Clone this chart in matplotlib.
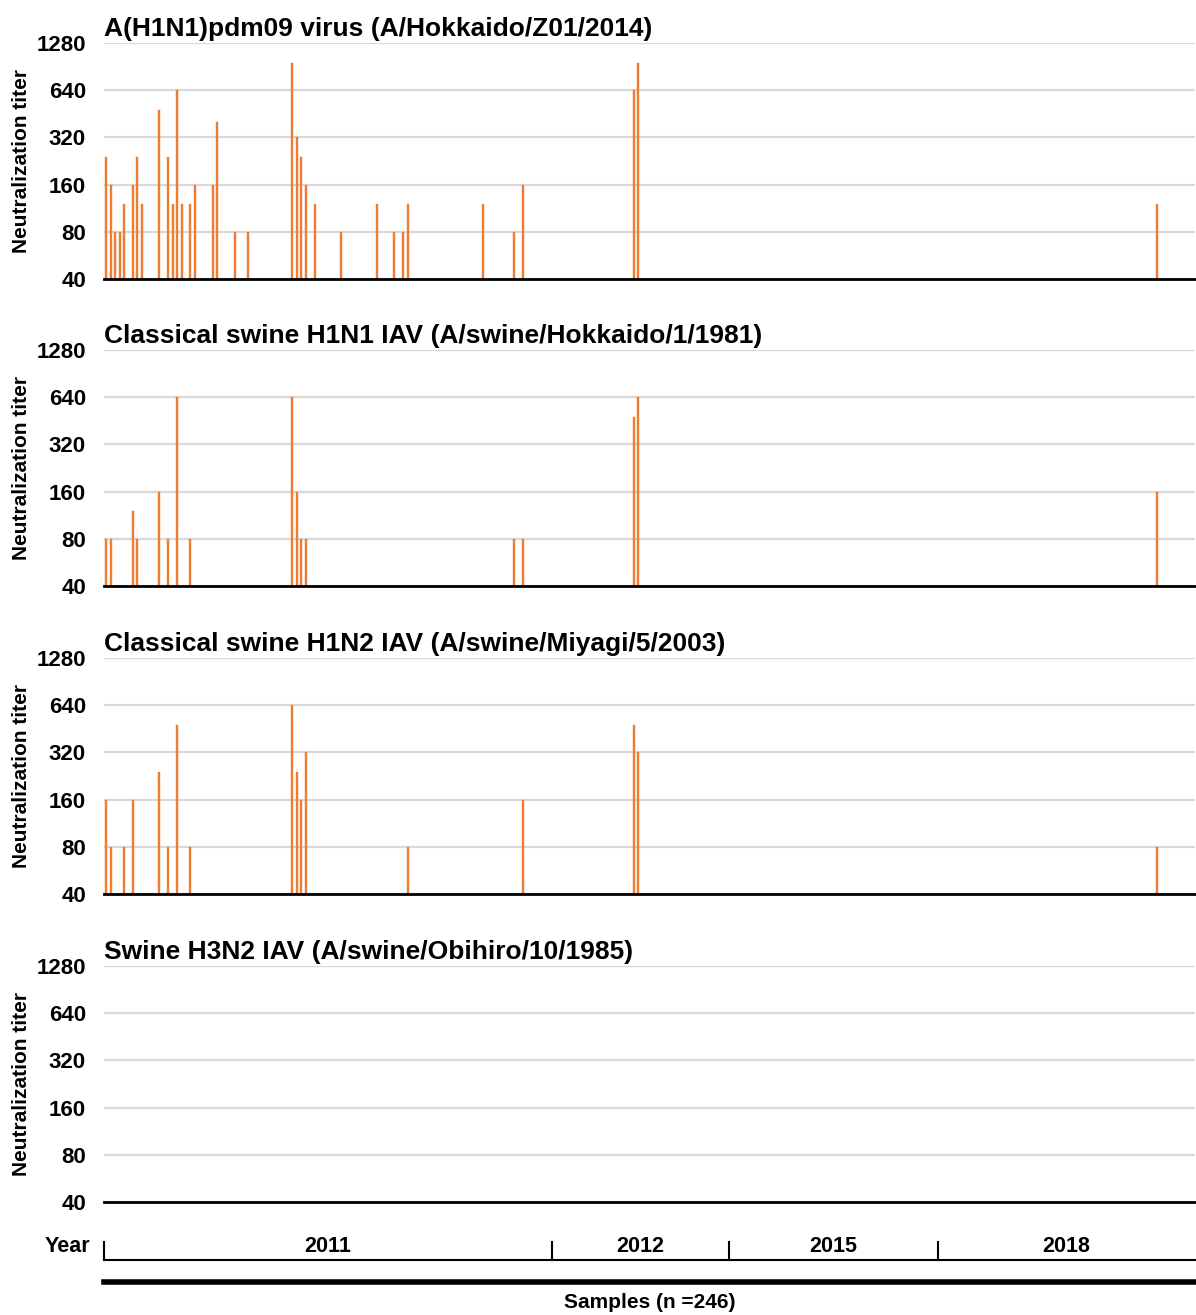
import matplotlib
matplotlib.use("Agg")
import matplotlib.pyplot as plt
import numpy as np

plt.rcParams['font.family'] = ['Liberation Sans', 'DejaVu Sans']
plt.rcParams['font.weight'] = 'bold'

N_SAMPLES = 246
TITERS = [40, 80, 160, 320, 640, 1280]
BAR_COLOR = '#ED7D31'

# sample index -> neutralization titer (only positives, rest are <40)
h1n1pdm_idx = [1, 2, 3, 4, 5, 7, 8, 9, 13, 15, 16, 17, 18, 20, 21, 25, 26,
               30, 33, 43, 44, 45, 46, 48, 54, 62, 66, 68, 69, 86, 93, 95,
               120, 121, 238]
h1n1pdm_val = [240, 160, 80, 80, 120, 160, 240, 120, 480, 240, 120, 640, 120,
               120, 160, 160, 400, 80, 80, 960, 320, 240, 160, 120, 80, 120,
               80, 80, 120, 120, 80, 160, 640, 960, 120]

sw_h1n1_idx = [1, 2, 7, 8, 13, 15, 17, 20, 43, 44, 45, 46, 93, 95, 120, 121,
               238]
sw_h1n1_val = [80, 80, 120, 80, 160, 80, 640, 80, 640, 160, 80, 80, 80, 80,
               480, 640, 160]

sw_h1n2_idx = [1, 2, 5, 7, 13, 15, 17, 20, 43, 44, 45, 46, 69, 95, 120, 121,
               238]
sw_h1n2_val = [160, 80, 80, 160, 240, 80, 480, 80, 640, 240, 160, 320, 80,
               160, 480, 320, 80]

sw_h3n2_idx = []
sw_h3n2_val = []

panel_titles = [
    "A(H1N1)pdm09 virus (A/Hokkaido/Z01/2014)",
    "Classical swine H1N1 IAV (A/swine/Hokkaido/1/1981)",
    "Classical swine H1N2 IAV (A/swine/Miyagi/5/2003)",
    "Swine H3N2 IAV (A/swine/Obihiro/10/1985)",
]

years = ["2011", "2012", "2015", "2018"]
year_counts = [101, 40, 47, 58]


def draw_panel(ax, idx, vals, title):
    idx = np.array(idx)
    vals = np.array(vals, dtype=float)
    if len(idx):
        ax.bar(idx, vals - 40, bottom=40, width=0.45, color=BAR_COLOR,
               edgecolor=BAR_COLOR, linewidth=0.3, zorder=3)
    ax.set_yscale('log', base=2)
    ax.set_ylim(40, 1280)
    ax.set_xlim(0.5, N_SAMPLES + 0.5)
    ax.set_yticks(TITERS)
    ax.set_yticklabels([str(t) for t in TITERS])
    ax.minorticks_off()
    ax.set_xticks([])
    ax.tick_params(axis='y', length=0, pad=13, labelsize=16)
    ax.grid(axis='y', color='#D9D9D9', linewidth=1.6, zorder=0)
    for s in ['top', 'right', 'left']:
        ax.spines[s].set_visible(False)
    ax.spines['bottom'].set_linewidth(2)
    ax.spines['bottom'].set_zorder(4)
    ax.set_title(title, loc='left', fontsize=19, fontweight='bold', pad=5)
    ax.set_ylabel("Neutralization titer", fontsize=15, fontweight='bold')
    ax.yaxis.set_label_coords(-0.067, 0.5)


fig = plt.figure(figsize=(11.96, 13.15), dpi=100)
H = 1315.0
left, width = 104 / 1196, 1091 / 1196
tops = [43, 350, 658, 966]
panel_h = 236

data = [(h1n1pdm_idx, h1n1pdm_val), (sw_h1n1_idx, sw_h1n1_val),
        (sw_h1n2_idx, sw_h1n2_val), (sw_h3n2_idx, sw_h3n2_val)]

for top, (idx, vals), title in zip(tops, data, panel_titles):
    ax = fig.add_axes([left, 1 - (top + panel_h) / H, width, panel_h / H])
    draw_panel(ax, idx, vals, title)

# year brackets and sample axis below the last panel
ax_yr = fig.add_axes([left, 0, width, 80 / H])
ax_yr.set_xlim(0.5, N_SAMPLES + 0.5)
ax_yr.set_ylim(80, 0)  # pixel-like coordinates, top down
ax_yr.axis('off')
y0 = 1235
bounds = np.concatenate([[0], np.cumsum(year_counts)]) + 0.5
ax_yr.plot([bounds[0], bounds[-1]], [1260 - y0] * 2, color='black', lw=1.5,
           clip_on=False)
for b in bounds[:-1]:
    ax_yr.plot([b, b], [1242 - y0, 1260 - y0], color='black', lw=1.5,
               clip_on=False)
for yr, a, b in zip(years, bounds[:-1], bounds[1:]):
    ax_yr.text((a + b) / 2, 1246 - y0, yr, ha='center', va='center',
               fontsize=15.5, fontweight='bold')
ax_yr.text(-2.7, 1246 - y0, "Year", ha='right', va='center', fontsize=15.5,
           fontweight='bold')
ax_yr.plot([0.5, N_SAMPLES + 0.5], [1282 - y0] * 2, color='black', lw=4,
           clip_on=False)
ax_yr.text(N_SAMPLES / 2 + 0.5, 1303 - y0, "Samples (n =246)", ha='center',
           va='center', fontsize=15, fontweight='bold')

fig.savefig("out.png", dpi=100, facecolor='white')
